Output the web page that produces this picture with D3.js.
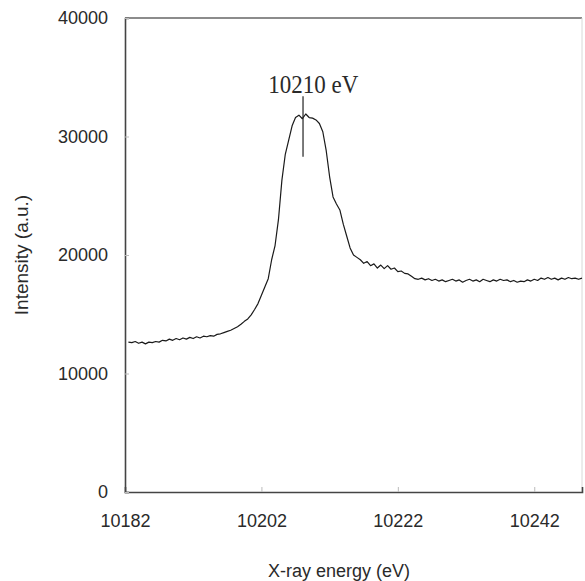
<!DOCTYPE html>
<html>
<head>
<meta charset="utf-8">
<script src="https://cdn.jsdelivr.net/npm/d3@7/dist/d3.min.js"></script>
<style>
  html, body { margin: 0; padding: 0; background: #ffffff; }
  svg { display: block; }
</style>
</head>
<body>
<svg id="chart" width="585" height="581"></svg>
<script>
// ---- data ----
const energies = [
  10182.5,10183,10183.5,10184,10184.5,10185,10185.5,10186,10186.5,10187,
  10187.5,10188,10188.5,10189,10189.5,10190,10190.5,10191,10191.5,10192,
  10192.5,10193,10193.5,10194,10194.5,10195,10195.5,10196,10196.5,10197,
  10197.5,10198,10198.5,10199,10199.5,10200,10200.5,10201,10201.5,10202,
  10202.5,10203,10203.5,10204,10204.5,10205,10205.5,10206,10206.5,10207,
  10207.5,10208,10208.5,10209,10209.5,10210,10210.5,10211,10211.5,10212,
  10212.5,10213,10213.5,10214,10214.5,10215,10215.5,10216,10216.5,10217,
  10217.5,10218,10218.5,10219,10219.5,10220,10220.5,10221,10221.5,10222,
  10222.5,10223,10223.5,10224,10224.5,10225,10225.5,10226,10226.5,10227,
  10227.5,10228,10228.5,10229,10229.5,10230,10230.5,10231,10231.5,10232,
  10232.5,10233,10233.5,10234,10234.5,10235,10235.5,10236,10236.5,10237,
  10237.5,10238,10238.5,10239,10239.5,10240,10240.5,10241,10241.5,10242,
  10242.5,10243,10243.5,10244,10244.5,10245,10245.5,10246,10246.5,10247,
  10247.5,10248,10248.5,10249
];
const intensities = [
  12650,12600,12700,12550,12650,12500,12650,12600,12700,12650,
  12800,12750,12900,12800,12950,12850,13000,12900,13050,12950,
  13100,13000,13150,13100,13200,13150,13300,13350,13450,13550,
  13650,13800,13950,14150,14400,14600,14950,15400,15900,16600,
  17300,18000,19600,20800,23000,26300,28500,29700,30900,31600,
  31800,31500,31900,31600,31550,31400,31100,30400,28800,26600,
  24900,24300,23800,22600,21600,20600,20000,19800,19600,19300,
  19450,19100,19250,18900,19150,18850,19100,18800,18900,18600,
  18650,18450,18400,18200,18000,17950,18050,17900,18000,17850,
  17950,17800,17900,17750,17850,17950,17800,17900,17700,17850,
  17950,17800,17900,17750,17950,17850,17750,17900,17800,17950,
  17850,17900,17750,17850,17700,17800,17750,17900,17800,17950,
  17850,18050,17950,18100,17950,18050,17900,18050,17950,18100,
  18000,18050,17950,18050
];
const xTicks = [10182, 10202, 10222, 10242];
const yTicks = [0, 10000, 20000, 30000, 40000];
const xDomain = [10182, 10249];
const yDomain = [0, 40000];
const peakLabel = "10210 eV";
const peakLineEnergy = 10208.1;
const peakLineRange = [28300, 33400];
const peakLabelPos = [10209.6, 33650];
const xTitle = "X-ray energy (eV)";
const yTitle = "Intensity (a.u.)";

// ---- layout ----
const svg = d3.select("#chart");
const mLeft = 125, mRight = 582, mTop = 18, mBottom = 492;

const x = d3.scaleLinear().domain(xDomain).range([mLeft, mRight]);
const y = d3.scaleLinear().domain(yDomain).range([mBottom, mTop]);

const sans = "'Liberation Sans', Arial, sans-serif";
const serif = "'Liberation Serif', 'Times New Roman', serif";

// frame top and right
svg.append("line").attr("x1", mLeft).attr("x2", mRight).attr("y1", mTop).attr("y2", mTop)
  .attr("stroke", "#666").attr("stroke-width", 1.6);
svg.append("line").attr("x1", mRight).attr("x2", mRight).attr("y1", mTop).attr("y2", mBottom)
  .attr("stroke", "#d8d8d8").attr("stroke-width", 1);

// x axis
const xAxis = d3.axisBottom(x).tickValues(xTicks).tickSize(-5).tickPadding(0)
  .tickFormat(d3.format("d"));
const gx = svg.append("g").attr("transform", `translate(0,${mBottom})`).call(xAxis);
gx.select(".domain").attr("stroke", "#444").attr("stroke-width", 1.6);
gx.selectAll(".tick line").attr("stroke", "#bbb");
gx.selectAll(".tick text").attr("font-family", sans).attr("font-size", 18)
  .attr("fill", "#2a2a2a").attr("dy", null).attr("y", 34.5);

// y axis
const yAxis = d3.axisLeft(y).tickValues(yTicks).tickSize(-4).tickPadding(17)
  .tickFormat(d3.format("d"));
const gy = svg.append("g").attr("transform", `translate(${mLeft},0)`).call(yAxis);
gy.select(".domain").attr("stroke", "#444").attr("stroke-width", 1.6);
gy.selectAll(".tick line").attr("stroke", "#bbb");
gy.selectAll(".tick text").attr("font-family", sans).attr("font-size", 18).attr("fill", "#2a2a2a");

// spectrum line
const data = energies.map((e, i) => ({ e, v: intensities[i] }));
const line = d3.line().x(d => x(d.e)).y(d => y(d.v));
svg.append("path").datum(data).attr("d", line)
  .attr("fill", "none").attr("stroke", "#1a1a1a").attr("stroke-width", 1.2)
  .attr("stroke-linejoin", "round");

// peak annotation
svg.append("line")
  .attr("x1", x(peakLineEnergy)).attr("x2", x(peakLineEnergy))
  .attr("y1", y(peakLineRange[1])).attr("y2", y(peakLineRange[0]))
  .attr("stroke", "#222").attr("stroke-width", 1.2);
const lx = x(peakLabelPos[0]), ly = y(peakLabelPos[1]);
svg.append("text")
  .attr("transform", `translate(${lx},${ly}) scale(1,1.12)`)
  .attr("text-anchor", "middle").attr("font-family", serif).attr("font-size", 23)
  .attr("fill", "#2a2a2a").text(peakLabel);

// axis titles
svg.append("text").attr("x", 339).attr("y", 577)
  .attr("text-anchor", "middle").attr("font-family", sans).attr("font-size", 18)
  .attr("fill", "#2a2a2a").text(xTitle);
svg.append("text").attr("transform", `translate(28,255) rotate(-90)`)
  .attr("text-anchor", "middle").attr("font-family", sans).attr("font-size", 19)
  .attr("fill", "#2a2a2a").text(yTitle);
</script>
</body>
</html>
